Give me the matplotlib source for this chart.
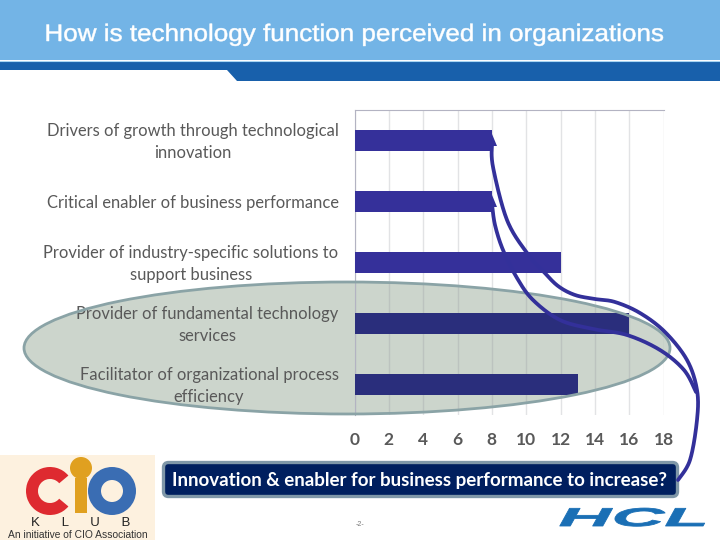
import numpy as np
import matplotlib
matplotlib.use("Agg")
import matplotlib.pyplot as plt
from matplotlib.patches import Rectangle, Polygon, Ellipse, Wedge, Circle, FancyBboxPatch
from matplotlib.transforms import Affine2D
import matplotlib.patheffects as pe

# ---- data ----
categories = [
    "Drivers of growth through technological\ninnovation",
    "Critical enabler of business performance",
    "Provider of industry-specific solutions to\nsupport business",
    "Provider of fundamental technology\nservices",
    "Facilitator of organizational process\nefficiency",
]
values = [8, 8, 12, 16, 13]
x_ticks = [0, 2, 4, 6, 8, 10, 12, 14, 16, 18]
title_text = "How is technology function perceived in organizations"
callout_text = "Innovation & enabler for business performance to increase?"

W, H = 720, 540
BAR_COLORS = ["#35309a", "#35309a", "#35309a", "#2a2e7c", "#2a2e7c"]
FONT = "Lato"


class StretchX(pe.AbstractPathEffect):
    """Stretch text horizontally about a pixel column, optionally thickening it."""
    def __init__(self, cx, sx, stroke=0.0):
        super().__init__()
        self.cx, self.sx, self.stroke = cx, sx, stroke

    def draw_path(self, renderer, gc, tpath, affine, rgbFace=None):
        t = affine + Affine2D().translate(-self.cx, 0).scale(self.sx, 1).translate(self.cx, 0)
        if self.stroke:
            gc0 = renderer.new_gc()
            gc0.copy_properties(gc)
            gc0.set_linewidth(self.stroke)
            gc0.set_foreground(rgbFace)
            renderer.draw_path(gc0, tpath, t, rgbFace)
            gc0.restore()
        else:
            renderer.draw_path(gc, tpath, t, rgbFace)


def smooth(pts, n=24):
    """Catmull-Rom curve through hand-placed connector waypoints."""
    p = np.array(pts, float)
    p = np.vstack([p[0], p, p[-1]])
    out = []
    for i in range(1, len(p) - 2):
        for t in np.linspace(0, 1, n, endpoint=False):
            a, b, c, d = p[i - 1], p[i], p[i + 1], p[i + 2]
            out.append(0.5 * (2 * b + (c - a) * t + (2 * a - 5 * b + 4 * c - d) * t ** 2
                              + (3 * b - a - 3 * c + d) * t ** 3))
    out.append(p[-2])
    return np.array(out)


fig = plt.figure(figsize=(W / 100, H / 100), dpi=100, facecolor="white")


def pixel_axes(z):
    a = fig.add_axes([0, 0, 1, 1], zorder=z)
    a.set_xlim(0, W)
    a.set_ylim(H, 0)
    a.axis("off")
    a.patch.set_alpha(0)
    return a


bg = pixel_axes(0)
fg = pixel_axes(5)

# ---- header ----
bg.add_patch(Rectangle((0, 0), W, 60, fc="#73b4e6", ec="none"))
bg.add_patch(Polygon([(0, 61), (W, 61), (W, 81), (237, 81), (227, 70), (0, 70)],
                     closed=True, fc="#1860ab", ec="none"))
bg.plot([0, W], [60.5, 60.5], color="#a8d4f2", lw=0.8)
bg.text(354, 35, title_text, color="white", ha="center", va="center", fontsize=17.2,
        family="Liberation Sans", path_effects=[StretchX(354, 1.09, stroke=0.35)])

# ---- highlight ellipse (behind the chart) ----
bg.add_patch(Ellipse((347, 348), 646, 132, fc="#ccd5cc", ec="none"))

# ---- bar chart ----
ax = fig.add_axes([354.5 / W, 1 - 415 / H, 309 / W, 305 / H], zorder=2)
ax.patch.set_alpha(0)
y = np.arange(len(categories))
ax.barh(y, values, height=0.345, color=BAR_COLORS, zorder=3)
ax.set_xlim(0, 18)
ax.set_ylim(len(categories) - 0.5, -0.5)
ax.set_xticks(x_ticks)
ax.set_yticks(y)
ax.set_yticklabels(categories, multialignment="center", fontsize=11.9, family=FONT, color="#595959",
                   linespacing=1.48)
ax.tick_params(axis="y", length=0, pad=11.5)
ax.tick_params(axis="x", length=0, pad=12.5, labelsize=12.5, labelcolor="#595959")
for lab in ax.get_xticklabels():
    lab.set_family(FONT)
    lab.set_fontweight("bold")
for lab in ax.get_yticklabels():
    if "\n" in lab.get_text():
        lab.set_transform(lab.get_transform() + Affine2D().translate(0, 3))
ax.grid(axis="x", color="#8f9099", alpha=0.25, lw=1, zorder=1)
for s in ("right", "bottom"):
    ax.spines[s].set_visible(False)
ax.spines["top"].set_color("#b3b3c2")
ax.spines["left"].set_color("#b3b3c2")

# ---- ellipse outline over the bars ----
fg.add_patch(Ellipse((347, 348), 646, 132, fc="none", ec="#8aa3a6", lw=2))

# ---- connector curves ----
curve_a = [(492, 143), (493, 167), (507, 220), (527, 253), (543, 271), (558, 286), (575, 295),
           (595, 299), (615, 302), (640, 313), (665, 332), (687, 360), (697, 390), (697, 420),
           (690, 460), (678, 480)]
curve_b = [(492, 204), (495, 225), (503, 250), (517, 278), (533, 300), (560, 320), (593, 329),
           (627, 335), (660, 350), (684, 370), (696, 392)]
for pts in (curve_a, curve_b):
    c = smooth(pts)
    fg.plot(c[:, 0], c[:, 1], color="#33309a", lw=2.7, solid_capstyle="round")
for tip in (143, 204):
    fg.add_patch(Polygon([(492, tip - 9), (497, tip + 3), (490, tip + 3)], closed=True,
                         fc="#33309a", ec="none"))

# ---- callout ----
fg.add_patch(FancyBboxPatch((163.5, 462.5), 514, 34, boxstyle="round,pad=0,rounding_size=5",
                            fc="#001f5f", ec="#7f97a8", lw=2.4, zorder=1))
fg.text(419, 480.5, callout_text, color="white", ha="center", va="center", fontsize=13.5,
        family=FONT, fontweight="bold", zorder=3)

# ---- footer ----
fg.text(360, 525, "-2-", color="#777777", ha="center", va="center", fontsize=5, family="Liberation Sans")
fg.text(634, 519, "HCL", color="#1a6fb5", ha="center", va="center", fontsize=18.5,
        family="Liberation Sans", fontweight="bold", style="italic",
        path_effects=[StretchX(634, 2.85, stroke=0.6)])

# ---- CIO Klub logo ----
bg.add_patch(Rectangle((0, 455), 155, 85, fc="#fdf1df", ec="none"))
bg.add_patch(Wedge((50, 491), 24, 40, 320, width=12, fc="#de2a30", ec="none"))
bg.add_patch(Wedge((112, 491), 24, 0, 360, width=13, fc="#3a6db3", ec="none"))
bg.add_patch(Rectangle((75, 478), 12, 35, fc="#e0a020", ec="none"))
bg.add_patch(Circle((81, 468), 11, fc="#e0a020", ec="none"))
bg.text(81, 523, "K      L      U      B", color="#222222", ha="center", va="center", fontsize=9.5,
        family="Liberation Sans")
bg.text(78, 535, "An initiative of CIO Association", color="#333333", ha="center", va="center",
        fontsize=7.4, family="Liberation Sans")

fig.savefig("out.png", dpi=100)
